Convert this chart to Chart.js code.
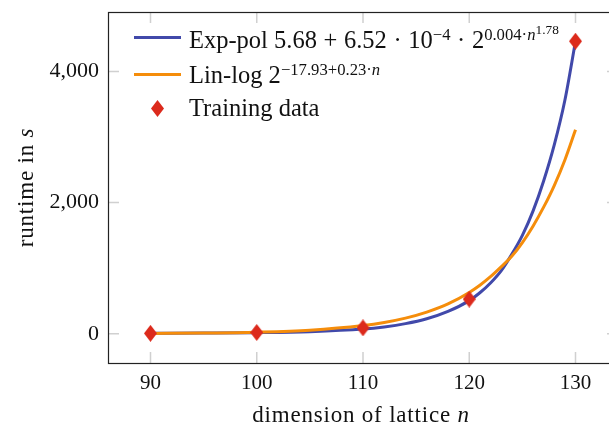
<!DOCTYPE html>
<html>
<head>
<meta charset="utf-8">
<script src="https://cdn.jsdelivr.net/npm/chart.js@4.4.1/dist/chart.umd.min.js"></script>
<style>
  html, body { margin: 0; padding: 0; background: #fff; overflow: hidden; }
  #wrap { position: relative; width: 627px; height: 428px; }
  #legend { position: absolute; left: 0; top: 0; font-family: "Liberation Serif", serif; font-size: 24.5px; color: #111; }
  .lg-row { position: absolute; left: 189px; white-space: nowrap; line-height: 24px; }
  .lg-line { position: absolute; left: 134px; width: 47px; height: 3px; }
  .lg-mark { position: absolute; }
  .sup { position: relative; top: -0.5em; font-size: 68%; }
  .sup .sup { top: -0.45em; font-size: 80%; }
  .op { padding: 0 0.27em; }
  i { font-style: italic; }
</style>
</head>
<body>
<div id="wrap">
  <canvas id="chart" width="627" height="428"></canvas>
  <div id="legend">
    <div class="lg-line" style="top:36px;background:#4149aa"></div>
    <div class="lg-row" style="top:28px">Exp-pol 5.68<span class="op">+</span>6.52<span class="op">·</span>10<span class="sup">−4</span><span class="op">·</span>2<span class="sup">0.004·<i>n</i><span class="sup">1.78</span></span></div>
    <div class="lg-line" style="top:73px;background:#f58d0b"></div>
    <div class="lg-row" style="top:63px">Lin-log 2<span class="sup">−17.93+0.23·<i>n</i></span></div>
    <canvas class="lg-mark" id="lg-diamond" width="13" height="17" style="left:151px;top:100px"></canvas>
    <div class="lg-row" style="top:96px">Training data</div>
  </div>
</div>
<script>
// values
const curveN   = [90, 95, 100, 105, 110, 112, 114, 116, 118, 120, 121, 122, 123, 124, 125, 126, 127, 128, 129, 130];
const expPol   = [8, 11, 17, 32, 71, 104, 154, 228, 340, 505, 625, 775, 960, 1210, 1500, 1870, 2330, 2880, 3560, 4460];
const linLog   = [5, 11, 24, 54, 125, 172, 238, 330, 455, 630, 740, 870, 1020, 1180, 1390, 1640, 1930, 2260, 2650, 3110];
const trainN   = [90, 100, 110, 120, 130];
const trainRun = [6, 20, 90, 528, 4460];
const xTicks   = [90, 100, 110, 120, 130];
const yTicks   = [0, 2000, 4000];

const BLUE = '#4149aa', ORANGE = '#f58d0b', RED = '#dc2a1c';
const SERIF = '"Liberation Serif", "DejaVu Serif", serif';

// tall diamond marker (pgfplots diamond*)
function diamond(cv) {
  const c = cv.getContext('2d');
  const w = cv.width, h = cv.height;
  c.fillStyle = RED;
  c.beginPath();
  c.moveTo(w / 2, 0); c.lineTo(w, h / 2); c.lineTo(w / 2, h); c.lineTo(0, h / 2);
  c.closePath(); c.fill();
  return cv;
}
const marker = document.createElement('canvas');
marker.width = 13; marker.height = 17;
diamond(marker);
diamond(document.getElementById('lg-diamond'));

const pts = (xs, ys) => xs.map((x, i) => ({ x, y: ys[i] }));

// no extra room for label overhang: the plot box is fixed like the original
function noPad(s) {
  s.paddingTop = 0; s.paddingBottom = 0; s.paddingLeft = 0; s.paddingRight = 0;
}

// inner tick marks on all four sides, frame, and axis titles with italic variables
const framePlugin = {
  id: 'frame',
  beforeDatasetsDraw(chart) {
    const { ctx, chartArea: a, scales: { x, y } } = chart;
    const len = 11;
    ctx.save();
    ctx.strokeStyle = '#d0d0d0';
    ctx.lineWidth = 1.5;
    ctx.beginPath();
    xTicks.forEach(v => {
      const px = x.getPixelForValue(v);
      ctx.moveTo(px, a.bottom); ctx.lineTo(px, a.bottom - len);
      ctx.moveTo(px, a.top); ctx.lineTo(px, a.top + len);
    });
    yTicks.forEach(v => {
      const py = y.getPixelForValue(v);
      ctx.moveTo(a.left, py); ctx.lineTo(a.left + len, py);
      ctx.moveTo(a.right, py); ctx.lineTo(a.right - len, py);
    });
    ctx.stroke();
    ctx.restore();
  },
  afterDraw(chart) {
    const { ctx, chartArea: a } = chart;
    ctx.save();
    ctx.strokeStyle = '#222';
    ctx.lineWidth = 1.2;
    ctx.strokeRect(Math.round(a.left) + 0.5, Math.round(a.top) + 0.5,
      Math.round(a.right - a.left), Math.round(a.bottom - a.top));

    ctx.fillStyle = '#111';
    ctx.textBaseline = 'alphabetic';
    ctx.letterSpacing = '0.8px';
    const drawMixed = (plain, ital, cx, cy) => {
      ctx.font = `23px ${SERIF}`;
      const w1 = ctx.measureText(plain).width;
      ctx.font = `italic 23px ${SERIF}`;
      const w2 = ctx.measureText(ital).width;
      const x0 = cx - (w1 + w2) / 2;
      ctx.font = `23px ${SERIF}`;
      ctx.textAlign = 'left';
      ctx.fillText(plain, x0, cy);
      ctx.font = `italic 23px ${SERIF}`;
      ctx.fillText(ital, x0 + w1, cy);
    };
    drawMixed('dimension of lattice ', 'n', (a.left + a.right) / 2 - 2, 422);
    ctx.translate(33, (a.top + a.bottom) / 2);
    ctx.rotate(-Math.PI / 2);
    drawMixed('runtime in ', 's', 0, 0);
    ctx.restore();
  }
};

new Chart(document.getElementById('chart'), {
  type: 'line',
  data: {
    datasets: [
      {
        label: 'Training data',
        data: pts(trainN, trainRun),
        showLine: false,
        pointStyle: marker,
        pointRadius: 8,
        order: 0
      },
      {
        label: 'Lin-log',
        data: pts(curveN, linLog),
        borderColor: ORANGE,
        borderWidth: 3,
        pointRadius: 0,
        cubicInterpolationMode: 'monotone',
        fill: false,
        order: 1
      },
      {
        label: 'Exp-pol',
        data: pts(curveN, expPol),
        borderColor: BLUE,
        borderWidth: 3,
        pointRadius: 0,
        cubicInterpolationMode: 'monotone',
        fill: false,
        order: 2
      }
    ]
  },
  options: {
    responsive: false,
    animation: false,
    layout: { padding: { top: 12, right: 0, left: 0, bottom: 0 } },
    plugins: { legend: { display: false }, tooltip: { enabled: false } },
    scales: {
      x: {
        type: 'linear',
        min: 86, max: 134,
        afterBuildTicks: s => { s.ticks = xTicks.map(v => ({ value: v })); },
        afterFit: s => { s.height = 65; noPad(s); },
        grid: { display: false, drawTicks: false },
        border: { display: false },
        ticks: { color: '#111', font: { family: SERIF, size: 21 }, padding: 8, maxRotation: 0 }
      },
      y: {
        min: -446, max: 4906,
        afterBuildTicks: s => { s.ticks = yTicks.map(v => ({ value: v })); },
        afterFit: s => { s.width = 108; noPad(s); },
        grid: { display: false, drawTicks: false },
        border: { display: false },
        ticks: {
          color: '#111', font: { family: SERIF, size: 22 }, padding: 9,
          callback: v => v.toLocaleString('en-US')
        }
      }
    }
  },
  plugins: [framePlugin]
});
</script>
</body>
</html>
